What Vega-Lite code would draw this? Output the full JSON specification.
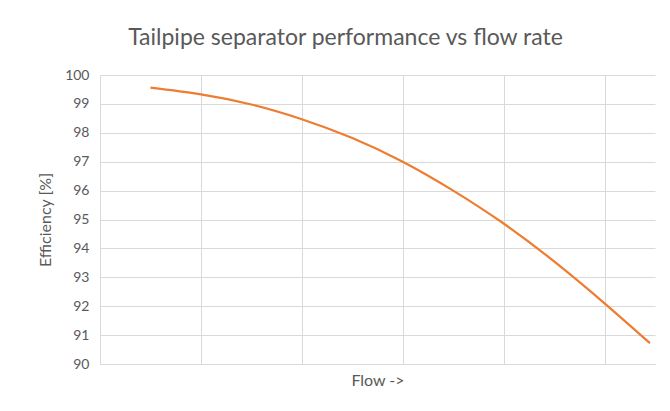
{
  "$schema": "https://vega.github.io/schema/vega-lite/v6.json",
  "width": 555,
  "height": 289,
  "autosize": {"type": "none"},
  "padding": {"left": 100, "top": 75, "right": 15, "bottom": 47},
  "background": "white",
  "title": {
    "text": "Tailpipe separator performance vs flow rate",
    "anchor": "middle",
    "frame": "group",
    "dx": -32,
    "offset": 18,
    "font": "Lato",
    "fontSize": 23,
    "fontWeight": "normal",
    "color": "#595959"
  },
  "data": {
    "values": [
      {"flow": 0.5, "eff": 99.56},
      {"flow": 1.0, "eff": 99.33},
      {"flow": 1.5, "eff": 98.98},
      {"flow": 2.0, "eff": 98.47},
      {"flow": 2.5, "eff": 97.82},
      {"flow": 3.0, "eff": 97.0},
      {"flow": 3.5, "eff": 96.0},
      {"flow": 4.0, "eff": 94.86},
      {"flow": 4.5, "eff": 93.55},
      {"flow": 5.0, "eff": 92.1},
      {"flow": 5.45, "eff": 90.72}
    ]
  },
  "mark": {"type": "line", "color": "#ED7D31", "strokeWidth": 2.25, "interpolate": "natural"},
  "encoding": {
    "x": {
      "field": "flow",
      "type": "quantitative",
      "scale": {"domain": [0, 5.5], "nice": false, "zero": false},
      "axis": {
        "title": "Flow ->",
        "values": [0, 1, 2, 3, 4, 5],
        "labels": false,
        "ticks": false,
        "domain": true,
        "domainColor": "#d9d9d9",
        "domainWidth": 1,
        "grid": true,
        "gridColor": "#d9d9d9",
        "gridWidth": 1,
        "titleFont": "Lato",
        "titleFontSize": 16,
        "titleFontWeight": "normal",
        "titleColor": "#595959",
        "titlePadding": 8
      }
    },
    "y": {
      "field": "eff",
      "type": "quantitative",
      "scale": {"domain": [90, 100], "nice": false, "zero": false},
      "axis": {
        "title": "Efficiency [%]",
        "values": [90, 91, 92, 93, 94, 95, 96, 97, 98, 99, 100],
        "ticks": false,
        "domain": false,
        "grid": true,
        "gridColor": "#d9d9d9",
        "gridWidth": 1,
        "labelFont": "Lato",
        "labelFontSize": 14,
        "labelColor": "#595959",
        "labelPadding": 11,
        "titleFont": "Lato",
        "titleFontSize": 16,
        "titleFontWeight": "normal",
        "titleColor": "#595959",
        "titlePadding": 11
      }
    }
  },
  "config": {"view": {"stroke": null}}
}
